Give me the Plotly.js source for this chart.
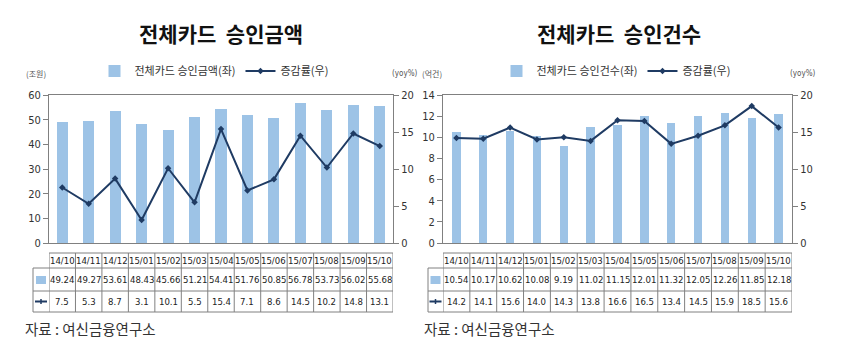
<!DOCTYPE html>
<html><head><meta charset="utf-8">
<script src="https://cdn.plot.ly/plotly-3.0.1.min.js"></script>
<style>html,body{margin:0;padding:0;background:#fff}#c{width:860px;height:356px}</style>
</head><body><div id="c"></div>
<script>
// ---- data ----
const months = ["14/10","14/11","14/12","15/01","15/02","15/03","15/04","15/05","15/06","15/07","15/08","15/09","15/10"];
const amountTrillion = [49.24,49.27,53.61,48.43,45.66,51.21,54.41,51.76,50.85,56.78,53.73,56.02,55.68];
const amountYoY = [7.5,5.3,8.7,3.1,10.1,5.5,15.4,7.1,8.6,14.5,10.2,14.8,13.1];
const countHundredMillion = [10.54,10.17,10.62,10.08,9.19,11.02,11.15,12.01,11.32,12.05,12.26,11.85,12.18];
const countYoY = [14.2,14.1,15.6,14.0,14.3,13.8,16.6,16.5,13.4,14.5,15.9,18.5,15.6];
const titleLeft = "전체카드  승인금액";
const titleRight = "전체카드  승인건수";
const barNameLeft = "전체카드 승인금액(좌)";
const barNameRight = "전체카드 승인건수(좌)";
const lineName = "증감률(우)";
const source = "자료 : 여신금융연구소";

// ---- style ----
const W = 860, H = 356;
const BAR = "#9DC3E6", LINE = "#1F3B63", GRID = "#808080", TXT = "#333333";
const KR = "'Noto Sans CJK KR', 'Noto Sans', sans-serif";
const NUM = "'DejaVu Sans Condensed', 'Liberation Sans Narrow', 'Liberation Sans', sans-serif";
const px = x => x / W;
const py = y => 1 - y / H;

const plotTop = 95, plotBot = 243;
const L = {x0: 49, x1: 393, tabLeft: 33, src: 23, unitL: 36, unitR: 405, title: 221, legend: 214};
const R = {x0: 443, x1: 792, tabLeft: 428, src: 422, unitL: 432, unitR: 803, title: 619, legend: 616};
const rows = {top: 253, h1: 268, h2: 291, bot: 312};

const traces = [
  {type: "bar", x: months, y: amountTrillion, name: barNameLeft, marker: {color: BAR}, width: 0.42,
   xaxis: "x", yaxis: "y", legend: "legend", hoverinfo: "skip"},
  {type: "scatter", mode: "lines+markers", x: months, y: amountYoY, name: lineName,
   line: {color: LINE, width: 2}, marker: {color: LINE, size: 5, symbol: "diamond"},
   xaxis: "x", yaxis: "y2", legend: "legend", hoverinfo: "skip"},
  {type: "bar", x: months, y: countHundredMillion, name: barNameRight, marker: {color: BAR}, width: 0.31,
   xaxis: "x2", yaxis: "y3", legend: "legend2", hoverinfo: "skip"},
  {type: "scatter", mode: "lines+markers", x: months, y: countYoY, name: lineName,
   line: {color: LINE, width: 2}, marker: {color: LINE, size: 5, symbol: "diamond"},
   xaxis: "x2", yaxis: "y4", legend: "legend2", hoverinfo: "skip"}
];

const tickFont = {family: NUM, size: 11, color: TXT};
function yax(range, dtick, side, overlay, anchor) {
  const a = {range: range, dtick: dtick, side: side, showgrid: false, zeroline: false,
    showline: true, linecolor: GRID, linewidth: 1, ticks: "outside", ticklen: 5, tickcolor: GRID,
    tickfont: tickFont, domain: [py(plotBot), py(plotTop)], fixedrange: true, anchor: anchor};
  if (overlay) a.overlaying = overlay;
  return a;
}
function xax(dom) {
  return {domain: dom, type: "category", range: [-0.5, 12.5], showticklabels: false, ticks: "",
    showline: true, mirror: true, linecolor: GRID, linewidth: 1, showgrid: false, fixedrange: true};
}

const shapes = [], annotations = [];
function table(ch, xref, bars, line) {
  const lc = {color: GRID, width: 1};
  shapes.push({type: "line", xref: "paper", yref: "paper", x0: px(ch.x0), x1: px(ch.x1), y0: py(rows.top), y1: py(rows.top), line: lc});
  [rows.h1, rows.h2, rows.bot].forEach(r =>
    shapes.push({type: "line", xref: "paper", yref: "paper", x0: px(ch.tabLeft), x1: px(ch.x1), y0: py(r), y1: py(r), line: lc}));
  shapes.push({type: "line", xref: "paper", yref: "paper", x0: px(ch.tabLeft), x1: px(ch.tabLeft), y0: py(rows.h1), y1: py(rows.bot), line: lc});
  for (let i = 0; i <= months.length; i++) {
    shapes.push({type: "line", xref: xref, yref: "paper", x0: i - 0.5, x1: i - 0.5, y0: py(rows.top), y1: py(rows.bot), line: lc});
  }
  const ic = (ch.tabLeft + ch.x0) / 2;
  shapes.push({type: "rect", xref: "paper", yref: "paper", x0: px(ic - 5), x1: px(ic + 5), y0: py(284), y1: py(276), fillcolor: BAR, line: {width: 0}});
  shapes.push({type: "line", xref: "paper", yref: "paper", x0: px(ic - 6), x1: px(ic + 6), y0: py(301.5), y1: py(301.5), line: {color: LINE, width: 2}});
  shapes.push({type: "line", xref: "paper", yref: "paper", x0: px(ic), x1: px(ic), y0: py(299), y1: py(304), line: {color: LINE, width: 1.5}});
  const f = {family: NUM, size: 9.5, color: "#222"};
  months.forEach((m, i) => {
    annotations.push({xref: xref, yref: "paper", x: m, y: py((rows.top + rows.h1) / 2), text: m, showarrow: false, font: f, xanchor: "center", yanchor: "middle"});
    annotations.push({xref: xref, yref: "paper", x: m, y: py((rows.h1 + rows.h2) / 2), text: bars[i].toFixed(2), showarrow: false, font: f, xanchor: "center", yanchor: "middle"});
    annotations.push({xref: xref, yref: "paper", x: m, y: py((rows.h2 + rows.bot) / 2), text: line[i].toFixed(1), showarrow: false, font: f, xanchor: "center", yanchor: "middle"});
  });
}
table(L, "x", amountTrillion, amountYoY);
table(R, "x2", countHundredMillion, countYoY);

function labels(ch, title, unitLeft) {
  annotations.push({xref: "paper", yref: "paper", x: px(ch.title), y: py(33), text: "<b>" + title + "</b>", showarrow: false,
    font: {family: KR, size: 21, color: "#111"}, xanchor: "center", yanchor: "middle"});
  annotations.push({xref: "paper", yref: "paper", x: px(ch.unitL), y: py(74), text: unitLeft, showarrow: false,
    font: {family: KR, size: 8, color: "#555"}, xanchor: "center", yanchor: "middle"});
  annotations.push({xref: "paper", yref: "paper", x: px(ch.unitR), y: py(74), text: "(yoy%)", showarrow: false,
    font: {family: NUM, size: 8, color: "#555"}, xanchor: "center", yanchor: "middle"});
  annotations.push({xref: "paper", yref: "paper", x: px(ch.src), y: py(328), text: source, showarrow: false,
    font: {family: KR, size: 14.5, color: TXT}, xanchor: "left", yanchor: "middle"});
}
labels(L, titleLeft, "(조원)");
labels(R, titleRight, "(억건)");

function legend(ch) {
  return {orientation: "h", x: px(ch.legend), xanchor: "center", y: py(71), yanchor: "middle",
    font: {family: KR, size: 11, color: TXT}, itemwidth: 30, bgcolor: "rgba(0,0,0,0)", tracegroupgap: 0,
    traceorder: "normal"};
}

const layout = {
  width: W, height: H, margin: {l: 0, r: 0, t: 0, b: 0}, paper_bgcolor: "#fff", plot_bgcolor: "#fff",
  showlegend: true, bargap: 0,
  xaxis: xax([px(L.x0), px(L.x1)]),
  xaxis2: xax([px(R.x0), px(R.x1)]),
  yaxis: yax([0, 60], 10, "left", null, "x"),
  yaxis2: yax([0, 20], 5, "right", "y", "x"),
  yaxis3: yax([0, 14], 2, "left", null, "x2"),
  yaxis4: yax([0, 20], 5, "right", "y3", "x2"),
  legend: legend(L), legend2: legend(R),
  shapes: shapes, annotations: annotations
};
Plotly.newPlot("c", traces, layout, {staticPlot: true, displayModeBar: false});
</script></body></html>
